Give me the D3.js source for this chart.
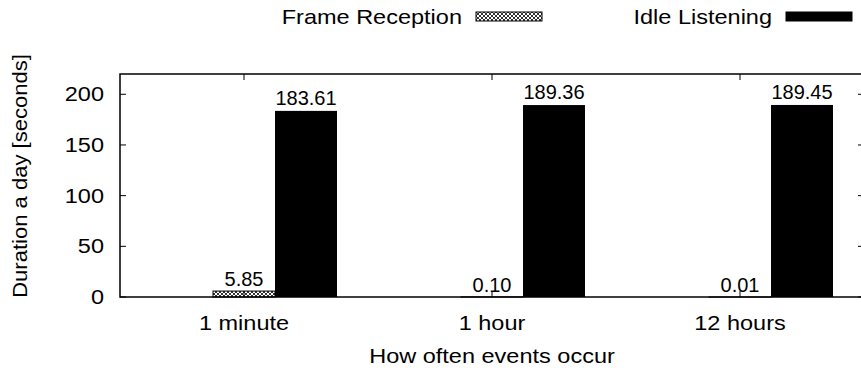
<!DOCTYPE html>
<html>
<head>
<meta charset="utf-8">
<script src="https://cdn.jsdelivr.net/npm/d3@7"></script>
<style>
  html, body { margin: 0; padding: 0; background: #fff; }
  svg { display: block; font-family: "Liberation Sans", Arial, sans-serif; }
</style>
</head>
<body>
<div id="chart"></div>
<script>
// data
const categories = ['1 minute', '1 hour', '12 hours']
const frameReception = [5.85, 0.10, 0.01]
const idleListening = [183.61, 189.36, 189.45]
const yTicks = [0, 50, 100, 150, 200]
const seriesNames = ['Frame Reception', 'Idle Listening']

const width = 861, height = 374
const margin = { top: 74, right: -3, bottom: 77, left: 120 }
const fs = 21          // axis / legend text
const stretch = 1.12   // the source picture is a bit wider than tall
const valueFs = 20

const svg = d3.select('#chart').append('svg')
  .attr('width', width).attr('height', height)

// crosshatch pattern like gnuplot's fill pattern 2
const defs = svg.append('defs')
const pat = defs.append('pattern')
  .attr('id', 'hatch').attr('patternUnits', 'userSpaceOnUse')
  .attr('width', 4).attr('height', 4)
pat.append('path').attr('d', 'M0,0 L4,4 M4,0 L0,4')
  .attr('stroke', '#000').attr('stroke-width', 0.8).attr('fill', 'none')

const x = d3.scaleLinear()
  .domain([-0.5, categories.length - 0.5])
  .range([margin.left, width - margin.right])
const y = d3.scaleLinear()
  .domain([0, 220])
  .range([height - margin.bottom, margin.top])

const barW = x(0.25) - x(0)
const x0 = margin.left, x1 = width - margin.right
const y0 = height - margin.bottom, y1 = margin.top

// stretched text helper
function label(parent, tx, ty, str, anchor, rot, sx) {
  parent.append('text')
    .attr('transform', `translate(${tx},${ty})${rot ? ` rotate(${rot})` : ''} scale(${sx || stretch},1)`)
    .attr('text-anchor', anchor || 'start')
    .attr('font-size', fs)
    .text(str)
}

// bars
const g = svg.append('g')
g.selectAll('rect.frame').data(frameReception).join('rect')
  .attr('class', 'frame')
  .attr('x', (d, i) => x(i) - barW / 2)
  .attr('y', d => y(d))
  .attr('width', barW)
  .attr('height', d => y(0) - y(d))
  .attr('fill', 'url(#hatch)')
  .attr('stroke', '#000').attr('stroke-width', 1)

g.selectAll('rect.idle').data(idleListening).join('rect')
  .attr('class', 'idle')
  .attr('x', (d, i) => x(i + 0.25) - barW / 2)
  .attr('y', d => y(d))
  .attr('width', barW)
  .attr('height', d => y(0) - y(d))
  .attr('fill', '#000')

// value labels
const labels = svg.append('g')
  .attr('font-size', valueFs).attr('text-anchor', 'middle').attr('fill', '#000')
frameReception.forEach((d, i) => {
  labels.append('text').attr('x', x(i)).attr('y', y(d) - 5).text(d.toFixed(2))
})
idleListening.forEach((d, i) => {
  labels.append('text').attr('x', x(i + 0.25)).attr('y', y(d) - 6).text(d.toFixed(2))
})

// frame
svg.append('rect')
  .attr('x', x0).attr('y', y1)
  .attr('width', x1 - x0).attr('height', y0 - y1)
  .attr('fill', 'none').attr('stroke', '#000').attr('stroke-width', 1.5)

// ticks on all four sides, pointing inward
const axes = svg.append('g').attr('stroke', '#000').attr('stroke-width', 1)
yTicks.forEach(t => {
  axes.append('line').attr('x1', x0).attr('x2', x0 + 6).attr('y1', y(t)).attr('y2', y(t))
  axes.append('line').attr('x1', x1).attr('x2', x1 - 6).attr('y1', y(t)).attr('y2', y(t))
})
categories.forEach((c, i) => {
  axes.append('line').attr('x1', x(i)).attr('x2', x(i)).attr('y1', y0).attr('y2', y0 - 6)
  axes.append('line').attr('x1', x(i)).attr('x2', x(i)).attr('y1', y1).attr('y2', y1 + 6)
})

const text = svg.append('g').attr('fill', '#000')
yTicks.forEach(t => label(text, x0 - 16, y(t) + 7, t, 'end'))
categories.forEach((c, i) => label(text, x(i), y0 + 33, c, 'middle'))

// axis titles
label(text, 492, 363, 'How often events occur', 'middle')
label(text, 27, 176, 'Duration a day [seconds]', 'middle', -90, 1.05)

// legend
const legend = [
  { name: seriesNames[0], fill: 'url(#hatch)', textEnd: 462, sx: 476 },
  { name: seriesNames[1], fill: '#000', textEnd: 772, sx: 786 }
]
legend.forEach(l => {
  label(text, l.textEnd, 24, l.name, 'end')
  svg.append('rect').attr('x', l.sx).attr('y', 12)
    .attr('width', 66).attr('height', 9)
    .attr('fill', l.fill).attr('stroke', '#000').attr('stroke-width', 1)
})
</script>
</body>
</html>
